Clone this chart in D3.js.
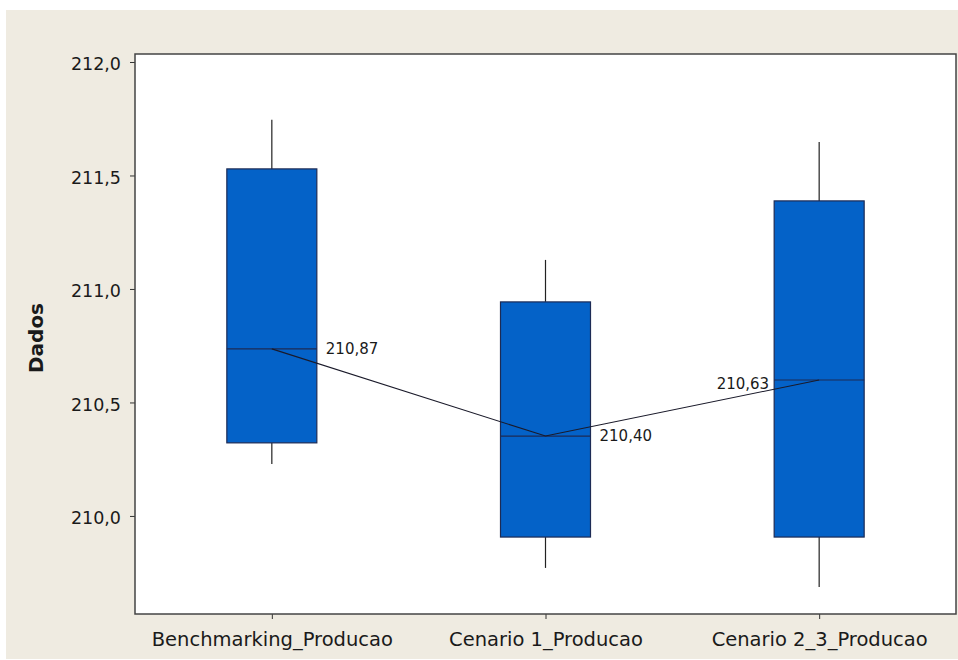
<!DOCTYPE html>
<html><head><meta charset="utf-8">
<script src="https://cdn.jsdelivr.net/npm/d3@7"></script>
<style>
html,body{margin:0;padding:0;background:#fff;}
svg{display:block;}
text{font-family:"DejaVu Sans",sans-serif;fill:#1a1a1a;}
</style></head>
<body>
<svg id="chart" width="958" height="660"></svg>
<script>
const categories = ["Benchmarking_Producao", "Cenario 1_Producao", "Cenario 2_3_Producao"];
const whiskerLow  = [210.229, 209.771, 209.687];
const q1          = [210.322, 209.907, 209.907];
const median      = [210.736, 210.352, 210.599];
const q3          = [211.529, 210.943, 211.388];
const whiskerHigh = [211.745, 211.128, 211.648];
const meanLabels  = ["210,87", "210,40", "210,63"];
const yTicks = [210.0, 210.5, 211.0, 211.5, 212.0];

const svg = d3.select("#chart");
const W = 958, H = 660;
const frame = {left: 135, top: 54, right: 956, bottom: 614};

svg.append("rect").attr("x", 6).attr("y", 10).attr("width", W - 6).attr("height", H - 10 - 1).attr("fill", "#efebe1");
svg.append("rect").attr("x", frame.left).attr("y", frame.top)
  .attr("width", frame.right - frame.left).attr("height", frame.bottom - frame.top)
  .attr("fill", "#fff");

const y = d3.scaleLinear().domain([209.568, 212.0352]).range([frame.bottom, frame.top]);
const x = d3.scalePoint().domain(categories).range([frame.left, frame.right]).padding(0.5);
const boxW = 90;

const fmt = v => d3.format(".1f")(v).replace(".", ",");

const yAxis = svg.append("g").attr("transform", `translate(${frame.left},0)`)
  .call(d3.axisLeft(y).tickValues(yTicks).tickFormat(fmt).tickSize(5).tickSizeOuter(0));
yAxis.select(".domain").remove();
yAxis.selectAll("line").attr("stroke", "#333");
yAxis.selectAll("text").attr("font-size", 17.5).attr("x", -14).attr("dy", "0.45em").style("fill", "#1a1a1a");

const xAxis = svg.append("g").attr("transform", `translate(0,${frame.bottom})`)
  .call(d3.axisBottom(x).tickSize(5).tickSizeOuter(0));
xAxis.select(".domain").remove();
xAxis.selectAll("line").attr("stroke", "#333");
xAxis.selectAll("text").attr("font-size", 19.5).attr("y", 32).attr("dy", null).style("fill", "#1a1a1a");

const idx = d3.range(categories.length);
const g = svg.append("g");
// whiskers
g.selectAll(".wh").data(idx).join("line")
  .attr("x1", i => x(categories[i])).attr("x2", i => x(categories[i]))
  .attr("y1", i => y(whiskerHigh[i])).attr("y2", i => y(q3[i]))
  .attr("stroke", "#222").attr("stroke-width", 1.2);
g.selectAll(".wl").data(idx).join("line")
  .attr("x1", i => x(categories[i])).attr("x2", i => x(categories[i]))
  .attr("y1", i => y(q1[i])).attr("y2", i => y(whiskerLow[i]))
  .attr("stroke", "#222").attr("stroke-width", 1.2);
// boxes
g.selectAll(".box").data(idx).join("rect")
  .attr("x", i => x(categories[i]) - boxW / 2).attr("width", boxW)
  .attr("y", i => y(q3[i])).attr("height", i => y(q1[i]) - y(q3[i]))
  .attr("fill", "#0462c8").attr("stroke", "#1d2b55").attr("stroke-width", 1.2);
// medians
g.selectAll(".med").data(idx).join("line")
  .attr("x1", i => x(categories[i]) - boxW / 2).attr("x2", i => x(categories[i]) + boxW / 2)
  .attr("y1", i => y(median[i])).attr("y2", i => y(median[i]))
  .attr("stroke", "#1d2b55").attr("stroke-width", 1.2);
// connect line
g.append("path")
  .attr("d", d3.line().x(i => x(categories[i])).y(i => y(median[i]))(idx))
  .attr("fill", "none").attr("stroke", "#1a1a2a").attr("stroke-width", 1.1);
// labels
g.selectAll(".lbl").data(idx).join("text")
  .attr("x", i => i === 2 ? x(categories[i]) - boxW / 2 - 5 : x(categories[i]) + boxW / 2 + 9)
  .attr("y", i => y(median[i]) + (i === 2 ? 4 : 0))
  .attr("dy", "0.35em")
  .attr("text-anchor", i => i === 2 ? "end" : "start")
  .attr("font-size", 15)
  .text(i => meanLabels[i]);

// frame
svg.append("rect").attr("x", frame.left).attr("y", frame.top)
  .attr("width", frame.right - frame.left).attr("height", frame.bottom - frame.top)
  .attr("fill", "none").attr("stroke", "#444").attr("stroke-width", 1.5);

svg.append("text").attr("transform", `translate(43,338) rotate(-90)`)
  .attr("text-anchor", "middle").attr("font-size", 20).attr("font-weight", "bold").text("Dados");
</script>
</body></html>
